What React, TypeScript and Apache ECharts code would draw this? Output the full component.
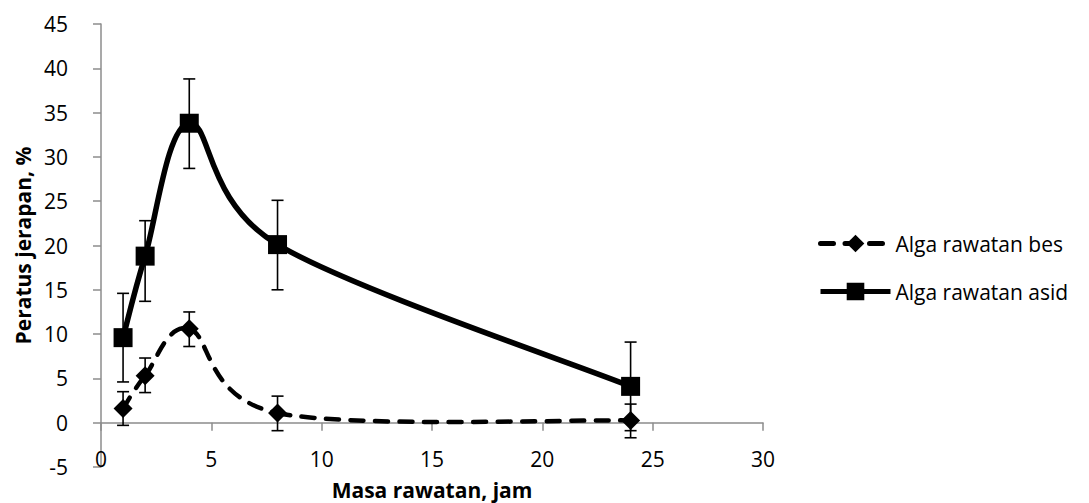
import React, { useEffect, useRef } from "react";
import * as echarts from "echarts";

const xValues = [1, 2, 4, 8, 24];
const besValues = [1.6, 5.3, 10.6, 1.1, 0.25];
const besErrUpper = [3.5, 7.3, 12.5, 3.0, 2.1];
const besErrLower = [-0.3, 3.4, 8.6, -0.9, -1.7];
const asidValues = [9.6, 18.8, 33.8, 20.1, 4.1];
const asidErrUpper = [14.6, 22.8, 38.8, 25.1, 9.1];
const asidErrLower = [4.6, 13.7, 28.7, 15.0, -0.9];

const seriesNames = ["Alga rawatan bes", "Alga rawatan asid"];
const xTitle = "Masa rawatan, jam";
const yTitle = "Peratus jerapan, %";

const FONT = "Open Sans";
const AXIS_COLOR = "#8c8c8c";
const BES_DASH = [13, 11.5];

function errorBarRender(params: any, api: any) {
  const x = api.value(0);
  const lo = api.value(1);
  const hi = api.value(2);
  const pHi = api.coord([x, hi]);
  const pLo = api.coord([x, lo]);
  const hw = 6;
  const style = { stroke: "#000", lineWidth: 1.6 };
  return {
    type: "group",
    children: [
      { type: "line", shape: { x1: pHi[0], y1: pHi[1], x2: pLo[0], y2: pLo[1] }, style },
      { type: "line", shape: { x1: pHi[0] - hw, y1: pHi[1], x2: pHi[0] + hw, y2: pHi[1] }, style },
      { type: "line", shape: { x1: pLo[0] - hw, y1: pLo[1], x2: pLo[0] + hw, y2: pLo[1] }, style },
    ],
  };
}

// Excel-style smoothed line: Catmull-Rom segments drawn as cubic Bezier curves
function makeCurveRender(ys: number[], lineStyle: any) {
  return (params: any, api: any) => {
    const i = params.dataIndex;
    const n = xValues.length;
    if (i >= n - 1) return { type: "group", children: [] };
    const pt = (k: number) => api.coord([xValues[Math.max(0, Math.min(n - 1, k))], ys[Math.max(0, Math.min(n - 1, k))]]);
    const p0 = pt(i - 1);
    const p1 = pt(i);
    const p2 = pt(i + 1);
    const p3 = pt(i + 2);
    const c1x = p1[0] + (p2[0] - p0[0]) / 6;
    const c1y = p1[1] + (p2[1] - p0[1]) / 6;
    const c2x = p2[0] - (p3[0] - p1[0]) / 6;
    const c2y = p2[1] - (p3[1] - p1[1]) / 6;
    return {
      type: "bezierCurve",
      shape: { x1: p1[0], y1: p1[1], x2: p2[0], y2: p2[1], cpx1: c1x, cpy1: c1y, cpx2: c2x, cpy2: c2y },
      style: { fill: "none", stroke: "#000", ...lineStyle },
    };
  };
}

export default function App() {
  const ref = useRef<HTMLDivElement>(null);
  useEffect(() => {
    if (!ref.current) return;
    const chart = echarts.init(ref.current, null, { renderer: "svg" });
    const besData = xValues.map((x, i) => [x, besValues[i]]);
    const asidData = xValues.map((x, i) => [x, asidValues[i]]);
    const besErr = xValues.map((x, i) => [x, besErrLower[i], besErrUpper[i]]);
    const asidErr = xValues.map((x, i) => [x, asidErrLower[i], asidErrUpper[i]]);
    chart.setOption({
      animation: false,
      backgroundColor: "#ffffff",
      textStyle: { fontFamily: FONT },
      grid: { left: 101, top: 24, width: 662, height: 443, containLabel: false, outerBoundsMode: "none" },
      legend: {
        data: [
          {
            name: seriesNames[0],
            lineStyle: { color: "#000", opacity: 1, width: 5, type: BES_DASH, cap: "round" },
          },
          {
            name: seriesNames[1],
            lineStyle: { color: "#000", opacity: 1, width: 5, type: "solid" },
          },
        ],
        orient: "vertical",
        left: 818,
        top: 233,
        itemWidth: 70,
        itemHeight: 22,
        itemGap: 27,
        padding: 0,
        textStyle: { fontFamily: FONT, fontSize: 21, color: "#000" },
      },
      xAxis: {
        type: "value",
        min: 0,
        max: 30,
        interval: 5,
        name: xTitle,
        nameLocation: "middle",
        nameGap: 12,
        nameTextStyle: { fontFamily: FONT, fontSize: 21, fontWeight: "bold", color: "#000" },
        axisLine: { show: true, onZero: true, lineStyle: { color: AXIS_COLOR, width: 1.5 } },
        axisTick: { show: true, inside: false, length: 8, lineStyle: { color: AXIS_COLOR, width: 1.5 } },
        axisLabel: { margin: -19, fontFamily: FONT, fontSize: 21, color: "#000" },
        splitLine: { show: false },
      },
      yAxis: {
        type: "value",
        min: -5,
        max: 45,
        interval: 5,
        name: yTitle,
        nameLocation: "middle",
        nameGap: 66,
        nameTextStyle: { fontFamily: FONT, fontSize: 21, fontWeight: "bold", color: "#000" },
        axisLine: { show: true, onZero: false, lineStyle: { color: AXIS_COLOR, width: 1.5 } },
        axisTick: { show: true, inside: false, length: 8, lineStyle: { color: AXIS_COLOR, width: 1.5 } },
        axisLabel: { margin: 33, fontFamily: FONT, fontSize: 21, color: "#000" },
        splitLine: { show: false },
      },
      series: [
        {
          name: seriesNames[0],
          type: "line",
          data: besData,
          symbol: "diamond",
          symbolSize: 19,
          itemStyle: { color: "#000" },
          lineStyle: { color: "#000", width: 5, opacity: 0 },
          z: 4,
        },
        {
          name: seriesNames[1],
          type: "line",
          data: asidData,
          symbol: "rect",
          symbolSize: 19,
          itemStyle: { color: "#000" },
          lineStyle: { color: "#000", width: 5, opacity: 0 },
          z: 4,
        },
        {
          name: "curve-bes",
          type: "custom",
          data: besData,
          encode: { x: 0, y: 1 },
          renderItem: makeCurveRender(besValues, { lineWidth: 4.5, lineDash: BES_DASH, lineCap: "round" }),
          z: 2,
          silent: true,
        },
        {
          name: "curve-asid",
          type: "custom",
          data: asidData,
          encode: { x: 0, y: 1 },
          renderItem: makeCurveRender(asidValues, { lineWidth: 5.5, lineJoin: "round" }),
          z: 2,
          silent: true,
        },
        {
          name: "err-bes",
          type: "custom",
          data: besErr,
          encode: { x: 0, y: [1, 2] },
          renderItem: errorBarRender,
          z: 5,
          silent: true,
        },
        {
          name: "err-asid",
          type: "custom",
          data: asidErr,
          encode: { x: 0, y: [1, 2] },
          renderItem: errorBarRender,
          z: 5,
          silent: true,
        },
      ],
    });
    return () => chart.dispose();
  }, []);
  return (
    <div
      ref={ref}
      style={{ position: "fixed", left: 0, top: 0, width: 1089, height: 503, background: "#fff" }}
    />
  );
}
